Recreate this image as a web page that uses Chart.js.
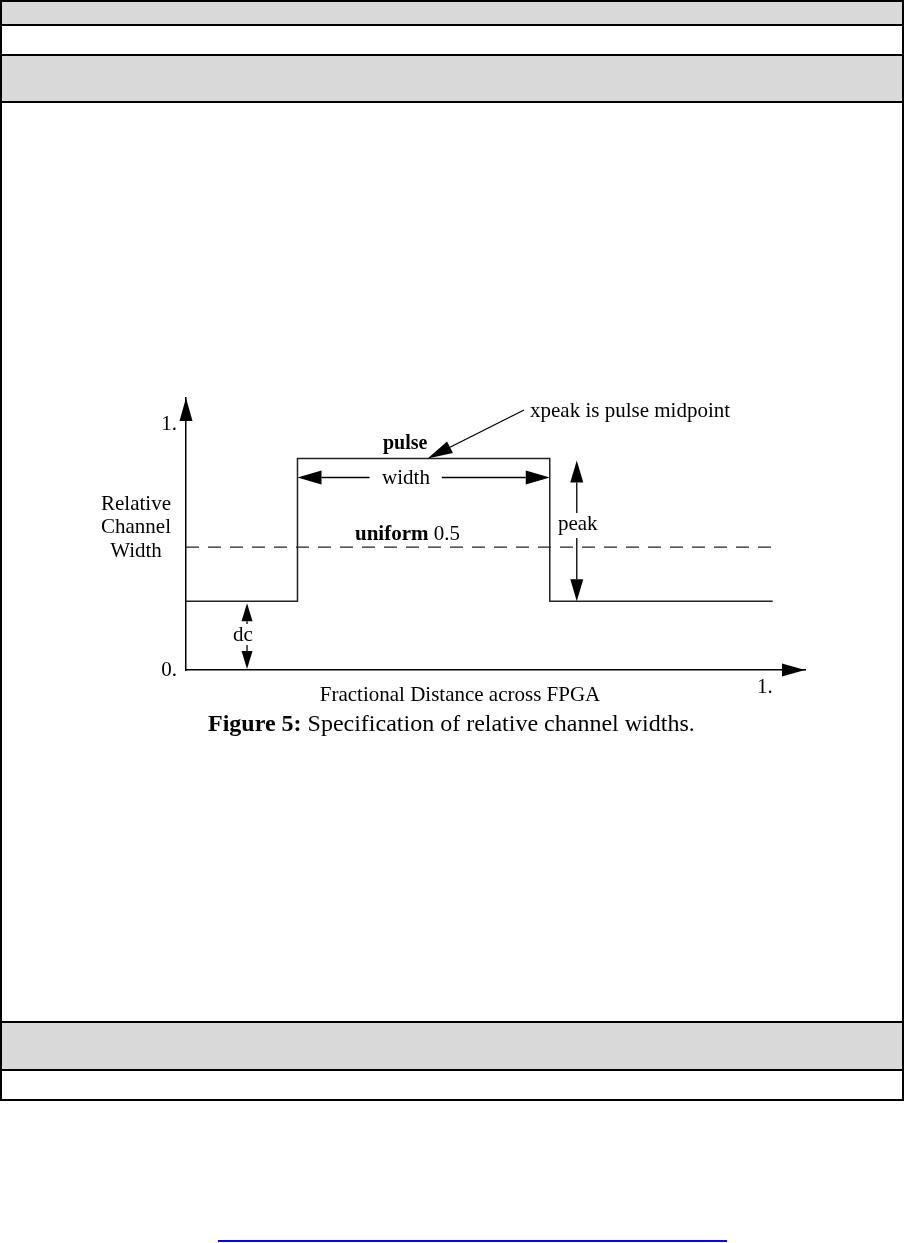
<!DOCTYPE html>
<html>
<head>
<meta charset="utf-8">
<script src="https://cdn.jsdelivr.net/npm/chart.js@4.4.1/dist/chart.umd.min.js"></script>
<style>
  body { margin: 0; background: #fff; width: 904px; height: 1243px; position: relative; overflow: hidden; }
  .row { position: absolute; left: 0; width: 904px; box-sizing: border-box; border-left: 2px solid #000; border-right: 2px solid #000; }
  .hl { position: absolute; left: 0; width: 904px; height: 2px; background: #000; }
  #link { position: absolute; left: 218px; top: 1240px; width: 509px; height: 2px; background: #0000ff; }
  #chart { position: absolute; left: 0; top: 0; }
</style>
</head>
<body>
<div class="row" style="top:0;height:25px;background:#d9d9d9"></div>
<div class="row" style="top:25px;height:30px"></div>
<div class="row" style="top:55px;height:47px;background:#d9d9d9"></div>
<div class="row" style="top:102px;height:920px"></div>
<div class="row" style="top:1022px;height:48px;background:#d9d9d9"></div>
<div class="row" style="top:1070px;height:30px"></div>
<div class="hl" style="top:0"></div>
<div class="hl" style="top:24px"></div>
<div class="hl" style="top:54px"></div>
<div class="hl" style="top:101px"></div>
<div class="hl" style="top:1021px"></div>
<div class="hl" style="top:1069px"></div>
<div class="hl" style="top:1099px"></div>
<div id="link"></div>
<canvas id="chart" width="904" height="1243"></canvas>
<script>
// relative channel width profile (step shape)
const stepX = [0, 0.19, 0.62, 1.0];
const stepY = [0.28, 0.86, 0.28, 0.28];
// uniform reference level
const uniformX = [0, 1.0];
const uniformY = [0.5, 0.5];
const xTicks = [1];
const yTicks = [0, 1];
const xMax = 1.055;
const yMax = 1.106;

const serif = '"Liberation Serif", "DejaVu Serif", serif';

function arrow(ctx, x1, y1, x2, y2, len, half) {
  const a = Math.atan2(y2 - y1, x2 - x1);
  const bx = x2 - len * Math.cos(a), by = y2 - len * Math.sin(a);
  if (Math.hypot(bx - x1, by - y1) > 0.5) {
    ctx.beginPath(); ctx.moveTo(x1, y1); ctx.lineTo(bx, by); ctx.stroke();
  }
  ctx.beginPath();
  ctx.moveTo(x2, y2);
  ctx.lineTo(bx + half * Math.sin(a), by - half * Math.cos(a));
  ctx.lineTo(bx - half * Math.sin(a), by + half * Math.cos(a));
  ctx.closePath(); ctx.fill();
}

const figureNotes = {
  id: 'figureNotes',
  afterDraw(chart) {
    const { ctx, chartArea: area } = chart;
    const px = v => chart.scales.x.getPixelForValue(v);
    const py = v => chart.scales.y.getPixelForValue(v);
    const x1 = px(stepX[1]), x2 = px(stepX[2]);
    const top = py(stepY[1]), dc = py(stepY[0]), base = py(0);

    ctx.save();
    ctx.fillStyle = '#000';
    ctx.strokeStyle = '#000';
    ctx.lineWidth = 1.3;

    // axis arrowheads
    arrow(ctx, area.left, area.top + 23, area.left, area.top, 23, 6.5);
    arrow(ctx, area.right - 23, area.bottom, area.right, area.bottom, 23, 6.5);

    // width double arrow
    const wy = top + 19;
    arrow(ctx, x1 + 72, wy, x1, wy, 24, 7);
    arrow(ctx, x2 - 108, wy, x2, wy, 24, 7);

    // peak double arrow
    const xp = x2 + 27;
    arrow(ctx, xp, 513, xp, top + 2, 22, 6.5);
    arrow(ctx, xp, 538, xp, dc, 22, 6.5);

    // dc double arrow
    const xd = px(0.104);
    arrow(ctx, xd, 624, xd, dc + 2, 18, 5.5);
    arrow(ctx, xd, 645, xd, base - 1, 18, 5.5);

    // leader to pulse midpoint
    arrow(ctx, 524, 410, px((stepX[1] + stepX[2]) / 2) + 4, top, 25, 6.5);

    ctx.textBaseline = 'alphabetic';
    ctx.font = '21px ' + serif;
    ctx.textAlign = 'left';
    ctx.fillText('xpeak is pulse midpoint', 530, 417);

    ctx.textAlign = 'center';
    ctx.fillText('width', 406, 484);
    ctx.fillText('peak', xp + 1, 530);
    ctx.fillText('dc', xd - 4, 641);
    ctx.fillText('Relative', 136, 510);
    ctx.fillText('Channel', 136, 533);
    ctx.fillText('Width', 136, 557);
    ctx.fillText('Fractional Distance across FPGA', 460, 701);

    ctx.textAlign = 'left';
    ctx.font = 'bold 20px ' + serif;
    ctx.fillText('pulse', 383, 449);
    ctx.font = 'bold 21px ' + serif;
    ctx.fillText('uniform', 355, 540);
    const uw = ctx.measureText('uniform ').width;
    ctx.font = '21px ' + serif;
    ctx.fillText('0.5', 355 + uw, 540);

    // caption
    ctx.font = 'bold 24px ' + serif;
    const head = 'Figure 5: ';
    const hw = ctx.measureText(head).width;
    ctx.font = '24px ' + serif;
    const rest = 'Specification of relative channel widths.';
    const rw = ctx.measureText(rest).width;
    const cx = 208;
    ctx.font = 'bold 24px ' + serif;
    ctx.fillText(head, cx, 731);
    ctx.font = '24px ' + serif;
    ctx.fillText(rest, cx + hw, 731);
    ctx.restore();
  }
};

new Chart(document.getElementById('chart'), {
  type: 'line',
  data: {
    datasets: [
      {
        label: 'channel width',
        data: stepX.map((x, i) => ({ x, y: stepY[i] })),
        stepped: 'before',
        borderColor: '#222',
        borderWidth: 1.5,
        pointRadius: 0,
        fill: false
      },
      {
        label: 'uniform',
        data: uniformX.map((x, i) => ({ x, y: uniformY[i] })),
        borderColor: '#222',
        borderWidth: 1.2,
        borderDash: [13, 9],
        pointRadius: 0,
        fill: false
      }
    ]
  },
  options: {
    responsive: false,
    animation: false,
    devicePixelRatio: 1,
    layout: { padding: { top: 398, right: 99, left: 0, bottom: 0 } },
    plugins: { legend: { display: false }, tooltip: { enabled: false } },
    scales: {
      x: {
        type: 'linear',
        min: 0,
        max: xMax,
        afterFit: s => { s.height = 1243 - 670; },
        afterBuildTicks: s => { s.ticks = xTicks.map(v => ({ value: v })); },
        grid: { display: false, drawTicks: false },
        border: { display: true, color: '#000', width: 1.5 },
        ticks: { padding: 5, align: 'end', maxRotation: 0, color: '#000', font: { family: serif, size: 21 }, callback: v => v + '.' }
      },
      y: {
        type: 'linear',
        min: 0,
        max: yMax,
        afterFit: s => { s.width = 186; },
        afterBuildTicks: s => { s.ticks = yTicks.map(v => ({ value: v })); },
        grid: { display: false, drawTicks: false },
        border: { display: true, color: '#000', width: 1.5 },
        ticks: { padding: 9, color: '#000', font: { family: serif, size: 21 }, callback: v => v + '.' }
      }
    }
  },
  plugins: [figureNotes]
});
</script>
</body>
</html>
